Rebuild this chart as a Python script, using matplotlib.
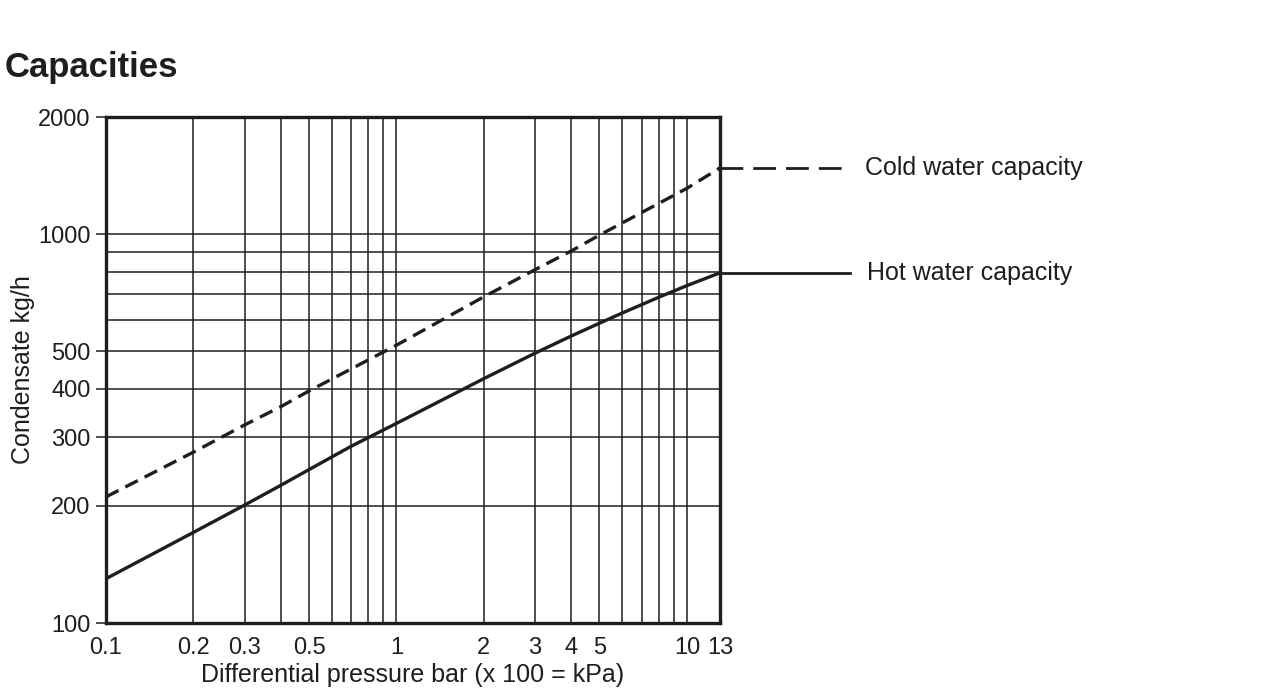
import matplotlib.pyplot as plt
from matplotlib.ticker import FixedLocator, NullFormatter

plt.rcParams["font.family"] = ["Liberation Sans", "DejaVu Sans"]

# readings taken off the reference chart
cold_pressure = [0.1, 0.2, 0.3, 0.4, 0.5, 1, 2, 3, 4, 5, 6, 7, 8, 9, 10, 13]
cold_capacity = [211, 275, 323, 360, 395, 518, 690, 810, 905, 994,
                 1069, 1137, 1199, 1257, 1311, 1480]

hot_pressure = [0.1, 0.2, 0.3, 0.4, 0.5, 0.7, 1, 2, 3, 4, 5, 6, 8, 10, 13]
hot_capacity = [130, 171, 201, 226, 248, 285, 326, 425, 494, 547, 590,
                627, 688, 737, 795]

x_tick_values = [0.1, 0.2, 0.3, 0.5, 1, 2, 3, 4, 5, 10, 13]
x_tick_labels = ["0.1", "0.2", "0.3", "0.5", "1", "2", "3", "4", "5",
                 "10", "13"]
y_tick_values = [100, 200, 300, 400, 500, 1000, 2000]
y_tick_labels = ["100", "200", "300", "400", "500", "1000", "2000"]

x_grid = [0.2, 0.3, 0.4, 0.5, 0.6, 0.7, 0.8, 0.9,
          1, 2, 3, 4, 5, 6, 7, 8, 9, 10]
y_grid = [200, 300, 400, 500, 600, 700, 800, 900, 1000]

ink = "#1e1e1e"
tick_size = 17
label_size = 18

fig = plt.figure(figsize=(12.72, 6.9), dpi=100)
ax = fig.add_axes([106 / 1272, 1 - 623 / 690, 614 / 1272, 506 / 690])

ax.set_xscale("log")
ax.set_yscale("log")
ax.set_xlim(0.1, 13)
ax.set_ylim(100, 2000)

# grid
for gx in x_grid:
    ax.axvline(gx, color=ink, linewidth=1.1, zorder=1)
for gy in y_grid:
    ax.axhline(gy, color=ink, linewidth=1.1, zorder=1)

# curves
ax.plot(
    cold_pressure,
    cold_capacity,
    color=ink,
    linewidth=2.4,
    dashes=(4.2, 2.3),
    zorder=3
)
ax.plot(
    hot_pressure,
    hot_capacity,
    color=ink,
    linewidth=2.4,
    zorder=3
)

# labels outside on the right
trans = ax.get_yaxis_transform()
ax.plot(
    [1.0, 1.208],
    [cold_capacity[-1], cold_capacity[-1]],
    transform=trans,
    color=ink,
    linewidth=2.0,
    dashes=(8.2, 3.6),
    clip_on=False
)
ax.plot(
    [1.0, 1.212],
    [hot_capacity[-1], hot_capacity[-1]],
    transform=trans,
    color=ink,
    linewidth=2.0,
    clip_on=False
)
ax.text(1.236, cold_capacity[-1], "Cold water capacity", transform=trans,
        fontsize=label_size, va="center", ha="left", color=ink)
ax.text(1.240, hot_capacity[-1], "Hot water capacity", transform=trans,
        fontsize=label_size, va="center", ha="left", color=ink)

# ticks
ax.xaxis.set_major_locator(FixedLocator(x_tick_values))
ax.set_xticklabels(x_tick_labels)
ax.xaxis.set_minor_locator(FixedLocator([0.1, 13]))
ax.xaxis.set_minor_formatter(NullFormatter())
ax.tick_params(axis="x", which="major", length=0, pad=10,
               labelsize=tick_size, labelcolor=ink)
ax.tick_params(axis="x", which="minor", length=5, width=1.1, color=ink)

ax.yaxis.set_major_locator(FixedLocator(y_tick_values))
ax.set_yticklabels(y_tick_labels)
ax.yaxis.set_minor_locator(FixedLocator([]))
ax.tick_params(axis="y", which="major", length=7, width=1.1, pad=4,
               labelsize=tick_size, color=ink, labelcolor=ink)

for spine in ax.spines.values():
    spine.set_linewidth(2.4)
    spine.set_color(ink)
    spine.set_zorder(4)

ax.set_xlabel("Differential pressure bar (x 100 = kPa)", fontsize=label_size,
              color=ink, labelpad=3)
ax.set_ylabel("Condensate kg/h", fontsize=label_size, color=ink, labelpad=2)

fig.text(5 / 1272, 1 - 67 / 690, "Capacities", fontsize=25,
         fontweight="bold", va="center", ha="left", color=ink)

fig.savefig("out.png", dpi=100, facecolor="white")
plt.close(fig)
